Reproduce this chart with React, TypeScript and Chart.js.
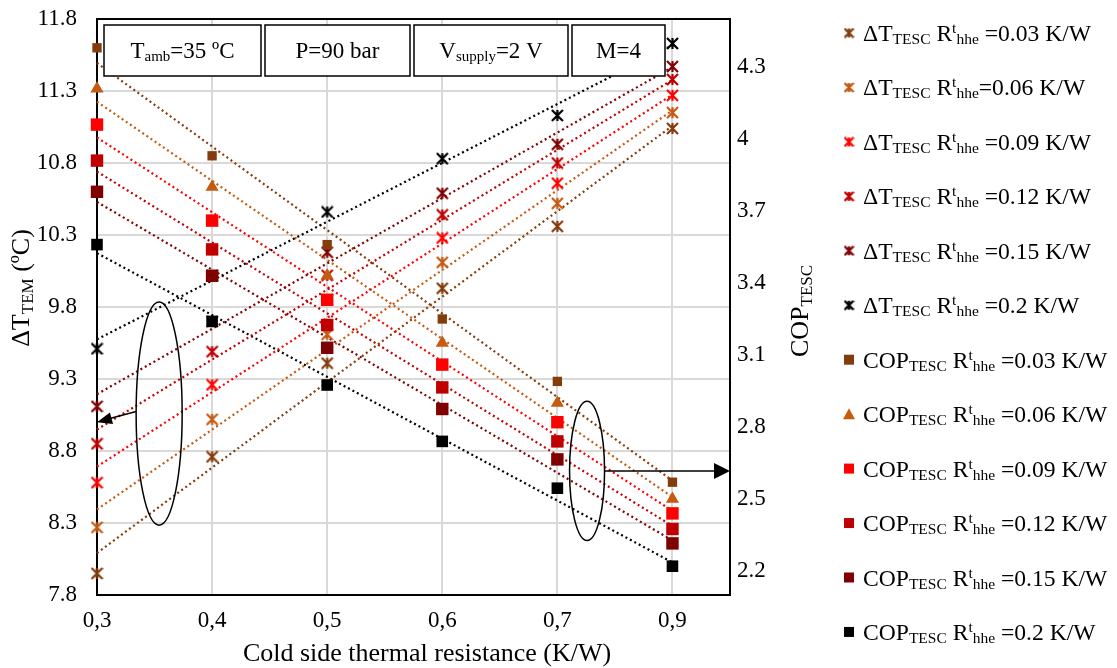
import React, { useEffect, useRef } from 'react';
import { Chart, registerables } from 'chart.js';
Chart.register(...registerables);

// ---------- data ----------
const xLabels = ['0,3', '0,4', '0,5', '0,6', '0,7', '0,9'];
const rLabels = ['0.03', '0.06', '0.09', '0.12', '0.15', '0.2'];

const dT003 = [7.95, 8.76, 9.41, 9.93, 10.36, 11.04];
const dT006 = [8.27, 9.02, 9.61, 10.11, 10.52, 11.15];
const dT009 = [8.58, 9.26, 9.85, 10.28, 10.66, 11.27];
const dT012 = [8.85, 9.49, 10.02, 10.44, 10.8, 11.38];
const dT015 = [9.11, 9.7, 10.18, 10.59, 10.93, 11.47];
const dT020 = [9.51, 10.02, 10.46, 10.83, 11.13, 11.63];

const cop003 = [4.38, 3.93, 3.56, 3.25, 2.99, 2.57];
const cop006 = [4.21, 3.8, 3.43, 3.15, 2.9, 2.5];
const cop009 = [4.06, 3.66, 3.33, 3.06, 2.82, 2.44];
const cop012 = [3.91, 3.54, 3.225, 2.965, 2.74, 2.375];
const cop015 = [3.78, 3.43, 3.13, 2.875, 2.665, 2.315];
const cop020 = [3.56, 3.24, 2.975, 2.74, 2.545, 2.22];

const leftTicks = [7.8, 8.3, 8.8, 9.3, 9.8, 10.3, 10.8, 11.3, 11.8];
const rightTicks = [2.2, 2.5, 2.8, 3.1, 3.4, 3.7, 4.0, 4.3];

const dTSeries = [dT003, dT006, dT009, dT012, dT015, dT020];
const copSeries = [cop003, cop006, cop009, cop012, cop015, cop020];

// ---------- styles ----------
const colors = ['#843C0C', '#C55A11', '#FF0000', '#C00000', '#7F0000', '#000000'];
const copStyles = ['rect', 'triangle', 'rect', 'rect', 'rect', 'rect'];
const copRadius = [6.6, 7.6, 8.8, 8.8, 8.8, 8.2];
const FONT = '"Liberation Serif", "Times New Roman", serif';

type Seg = { t: string; s: number; dy?: number };

function fontStr(s: number) {
  return `${s}px ${FONT}`;
}
function richWidth(ctx: CanvasRenderingContext2D, segs: Seg[]) {
  let w = 0;
  for (const g of segs) {
    ctx.font = fontStr(g.s);
    w += ctx.measureText(g.t).width;
  }
  return w;
}
function drawRich(ctx: CanvasRenderingContext2D, segs: Seg[], x: number, y: number, align: 'left' | 'center') {
  const w = richWidth(ctx, segs);
  let cx = align === 'center' ? x - w / 2 : x;
  ctx.textAlign = 'left';
  ctx.textBaseline = 'alphabetic';
  ctx.fillStyle = '#000';
  for (const g of segs) {
    ctx.font = fontStr(g.s);
    ctx.fillText(g.t, cx, y + (g.dy || 0));
    cx += ctx.measureText(g.t).width;
  }
}

function makeStar(color: string, size: number, lw: number) {
  const c = document.createElement('canvas');
  c.width = size;
  c.height = size;
  const g = c.getContext('2d')!;
  const m = size / 2;
  const r = size / 2 - 1;
  g.strokeStyle = color;
  g.lineWidth = lw;
  g.beginPath();
  g.moveTo(m - r, m - r);
  g.lineTo(m + r, m + r);
  g.moveTo(m - r, m + r);
  g.lineTo(m + r, m - r);
  g.moveTo(m, m - r);
  g.lineTo(m, m + r);
  g.stroke();
  return c;
}

function linFit(ys: number[]) {
  const n = ys.length;
  const mx = (n - 1) / 2;
  const my = ys.reduce((a, b) => a + b, 0) / n;
  let sxy = 0;
  let sxx = 0;
  ys.forEach((y, i) => {
    sxy += (i - mx) * (y - my);
    sxx += (i - mx) * (i - mx);
  });
  const b = sxy / sxx;
  const a = my - b * mx;
  return [
    { x: 0, y: a },
    { x: n - 1, y: a + b * (n - 1) },
  ];
}

function arrowHead(ctx: CanvasRenderingContext2D, x1: number, y1: number, x2: number, y2: number, len: number, half: number) {
  const ang = Math.atan2(y2 - y1, x2 - x1);
  ctx.beginPath();
  ctx.moveTo(x2, y2);
  ctx.lineTo(x2 - len * Math.cos(ang) + half * Math.sin(ang), y2 - len * Math.sin(ang) - half * Math.cos(ang));
  ctx.lineTo(x2 - len * Math.cos(ang) - half * Math.sin(ang), y2 - len * Math.sin(ang) + half * Math.cos(ang));
  ctx.closePath();
  ctx.fill();
}

const decorPlugin = {
  id: 'decor',
  beforeDatasetsDraw(chart: any) {
    const { ctx, chartArea: a } = chart;
    ctx.save();
    ctx.strokeStyle = '#000';
    ctx.lineWidth = 2;
    ctx.strokeRect(a.left, a.top, a.right - a.left, a.bottom - a.top);
    ctx.restore();
  },
  afterDraw(chart: any) {
    const { ctx, chartArea: a, scales } = chart;
    const xs = scales.x;
    const yl = scales.y;
    const yr = scales.y2;
    ctx.save();

    // annotation boxes
    const boxes: { x: number; w: number; segs: Seg[] }[] = [
      { x: 104, w: 157, segs: [{ t: 'T', s: 23 }, { t: 'amb', s: 15, dy: 3 }, { t: '=35 ºC', s: 23 }] },
      { x: 265, w: 145, segs: [{ t: 'P=90 bar', s: 23 }] },
      { x: 414, w: 154, segs: [{ t: 'V', s: 23 }, { t: 'supply', s: 15, dy: 3 }, { t: '=2 V', s: 23 }] },
      { x: 572, w: 93, segs: [{ t: 'M=4', s: 23 }] },
    ];
    for (const b of boxes) {
      ctx.fillStyle = '#fff';
      ctx.fillRect(b.x, a.top + 6, b.w, 51);
      ctx.strokeStyle = '#000';
      ctx.lineWidth = 1.5;
      ctx.strokeRect(b.x, a.top + 6, b.w, 51);
      drawRich(ctx, b.segs, b.x + b.w / 2, a.top + 39, 'center');
    }

    // ellipses and arrows
    ctx.strokeStyle = '#000';
    ctx.fillStyle = '#000';
    ctx.lineWidth = 1.5;
    {
      const cx = xs.getPixelForValue(0.54);
      const cy = yl.getPixelForValue(9.06);
      const rx = xs.getPixelForValue(0.74) - cx;
      const ry = yl.getPixelForValue(8.285) - cy;
      ctx.beginPath();
      ctx.ellipse(cx, cy, rx, ry, 0, 0, Math.PI * 2);
      ctx.stroke();
      const sx = cx - rx;
      const sy = cy - 2;
      const ex = xs.getPixelForValue(0);
      const ey = yl.getPixelForValue(9.0);
      ctx.beginPath();
      ctx.moveTo(sx, sy);
      ctx.lineTo(ex + 10, ey - 3);
      ctx.stroke();
      arrowHead(ctx, sx, sy, ex, ey, 15, 6);
    }
    {
      const cx = xs.getPixelForValue(4.258);
      const cy = yr.getPixelForValue(2.617);
      const rx = xs.getPixelForValue(4.41) - cx;
      const ry = yr.getPixelForValue(2.327) - cy;
      ctx.beginPath();
      ctx.ellipse(cx, cy, rx, ry, 0, 0, Math.PI * 2);
      ctx.stroke();
      const ex = xs.getPixelForValue(5.5);
      ctx.beginPath();
      ctx.moveTo(cx + rx, cy);
      ctx.lineTo(ex - 10, cy);
      ctx.stroke();
      arrowHead(ctx, cx + rx, cy, ex, cy, 16, 8);
    }

    // axis titles
    drawRich(ctx, [{ t: 'Cold side thermal resistance (K/W)', s: 26 }], 427, 661, 'center');
    ctx.save();
    ctx.translate(29, 288);
    ctx.rotate(-Math.PI / 2);
    drawRich(ctx, [{ t: 'ΔT', s: 26 }, { t: 'TEM', s: 17, dy: 4 }, { t: ' (ºC)', s: 26 }], 0, 0, 'center');
    ctx.restore();
    ctx.save();
    ctx.translate(808, 311);
    ctx.rotate(-Math.PI / 2);
    drawRich(ctx, [{ t: 'COP', s: 26 }, { t: 'TESC', s: 17, dy: 4 }], 0, 0, 'center');
    ctx.restore();

    // legend
    const step = 54.45;
    const LF = 23.6;
    const LS = 15.5;
    for (let k = 0; k < 12; k++) {
      const yc = 33 + k * step;
      const i = k % 6;
      const isDT = k < 6;
      const mx = 849;
      if (isDT) {
        const img = makeStar(colors[i], 11, 2.4);
        ctx.drawImage(img, mx - 5.5, yc - 5.5);
        const eq = i === 1 ? '=' + rLabels[i] + ' K/W' : ' =' + rLabels[i] + ' K/W';
        drawRich(
          ctx,
          [
            { t: 'ΔT', s: LF },
            { t: 'TESC', s: LS, dy: 3 },
            { t: ' R', s: LF },
            { t: 't', s: LS, dy: -8 },
            { t: 'hhe', s: LS, dy: 3 },
            { t: eq, s: LF },
          ],
          863,
          yc + 8,
          'left'
        );
      } else {
        ctx.fillStyle = colors[i];
        if (copStyles[i] === 'triangle') {
          ctx.beginPath();
          ctx.moveTo(mx, yc - 6);
          ctx.lineTo(mx + 6, yc + 5);
          ctx.lineTo(mx - 6, yc + 5);
          ctx.closePath();
          ctx.fill();
        } else {
          ctx.fillRect(mx - 5, yc - 5, 10, 10);
        }
        drawRich(
          ctx,
          [
            { t: 'COP', s: LF },
            { t: 'TESC', s: LS, dy: 3 },
            { t: ' R', s: LF },
            { t: 't', s: LS, dy: -8 },
            { t: 'hhe', s: LS, dy: 3 },
            { t: ' =' + rLabels[i] + ' K/W', s: LF },
          ],
          863,
          yc + 8,
          'left'
        );
      }
    }
    ctx.restore();
  },
};

export default function App() {
  const ref = useRef<HTMLCanvasElement>(null);
  useEffect(() => {
    document.body.style.margin = '0';
    const datasets: any[] = [];
    copSeries.forEach((s, i) => {
      datasets.push({
        type: 'scatter',
        label: 'COP ' + rLabels[i],
        data: s.map((v, k) => ({ x: k, y: v })),
        yAxisID: 'y2',
        pointStyle: copStyles[i],
        pointRadius: copRadius[i],
        pointBackgroundColor: colors[i],
        pointBorderColor: colors[i],
        pointBorderWidth: 0,
        showLine: false,
        clip: false,
        order: 0,
      });
    });
    dTSeries.forEach((s, i) => {
      datasets.push({
        type: 'scatter',
        label: 'dT ' + rLabels[i],
        data: s.map((v, k) => ({ x: k, y: v })),
        yAxisID: 'y',
        pointStyle: makeStar(colors[i], 13, 2.2),
        pointRadius: 6,
        showLine: false,
        clip: false,
        order: 1,
      });
    });
    dTSeries.forEach((s, i) => {
      datasets.push({
        type: 'line',
        label: 'dT fit ' + rLabels[i],
        data: linFit(s),
        yAxisID: 'y',
        borderColor: colors[i],
        borderWidth: 2.2,
        borderDash: [2, 3],
        pointRadius: 0,
        fill: false,
        clip: false,
        order: 2,
      });
    });
    copSeries.forEach((s, i) => {
      datasets.push({
        type: 'line',
        label: 'COP fit ' + rLabels[i],
        data: linFit(s),
        yAxisID: 'y2',
        borderColor: colors[i],
        borderWidth: 2.2,
        borderDash: [2, 3],
        pointRadius: 0,
        fill: false,
        clip: false,
        order: 2,
      });
    });

    const noPad = (s: any) => {
      s.paddingTop = 0;
      s.paddingBottom = 0;
      s.paddingLeft = 0;
      s.paddingRight = 0;
    };

    const tickFont = { family: FONT, size: 23 };
    const chart = new Chart(ref.current!, {
      type: 'scatter',
      data: { datasets },
      plugins: [decorPlugin],
      options: {
        responsive: false,
        devicePixelRatio: 1,
        animation: false,
        layout: { padding: { top: 19, left: 0, right: 0, bottom: 0 } },
        plugins: { legend: { display: false }, tooltip: { enabled: false } },
        scales: {
          x: {
            type: 'linear',
            position: 'bottom',
            min: 0,
            max: 5.5,
            afterBuildTicks: (s: any) => {
              s.ticks = xLabels.map((_, i) => ({ value: i }));
            },
            afterFit: (s: any) => {
              s.height = 73;
              noPad(s);
            },
            grid: {
              color: (c: any) => (c.tick && c.tick.value === 0 ? 'rgba(0,0,0,0)' : '#d9d9d9'),
              lineWidth: 2,
              drawTicks: false,
            },
            border: { display: false },
            ticks: {
              font: tickFont,
              color: '#000',
              padding: 12,
              autoSkip: false,
              maxRotation: 0,
              callback: (v: any) => xLabels[v] ?? '',
            },
          },
          y: {
            type: 'linear',
            position: 'left',
            min: 7.8,
            max: 11.8,
            afterBuildTicks: (s: any) => {
              s.ticks = leftTicks.map((v) => ({ value: v }));
            },
            afterFit: (s: any) => {
              s.width = 97;
              noPad(s);
            },
            grid: {
              color: (c: any) =>
                c.tick && (c.tick.value === 7.8 || c.tick.value === 11.8) ? 'rgba(0,0,0,0)' : '#d9d9d9',
              lineWidth: 2,
              drawTicks: false,
            },
            border: { display: false },
            ticks: {
              font: tickFont,
              color: '#000',
              padding: 20,
              callback: (v: any) => Number(v).toFixed(1),
            },
          },
          y2: {
            type: 'linear',
            position: 'right',
            min: 2.1,
            max: 4.5,
            afterBuildTicks: (s: any) => {
              s.ticks = rightTicks.map((v) => ({ value: v }));
            },
            afterFit: (s: any) => {
              s.width = 387;
              noPad(s);
            },
            grid: { display: false, drawTicks: false },
            border: { display: false },
            ticks: {
              font: tickFont,
              color: '#000',
              padding: 7,
              callback: (v: any) => String(Number(Number(v).toFixed(1))),
            },
          },
        },
      } as any,
    });
    return () => chart.destroy();
  }, []);
  return (
    <div style={{ position: 'absolute', left: 0, top: 0, width: 1117, height: 668, background: '#fff' }}>
      <canvas ref={ref} width={1117} height={668} style={{ display: 'block', width: 1117, height: 668 }} />
    </div>
  );
}
